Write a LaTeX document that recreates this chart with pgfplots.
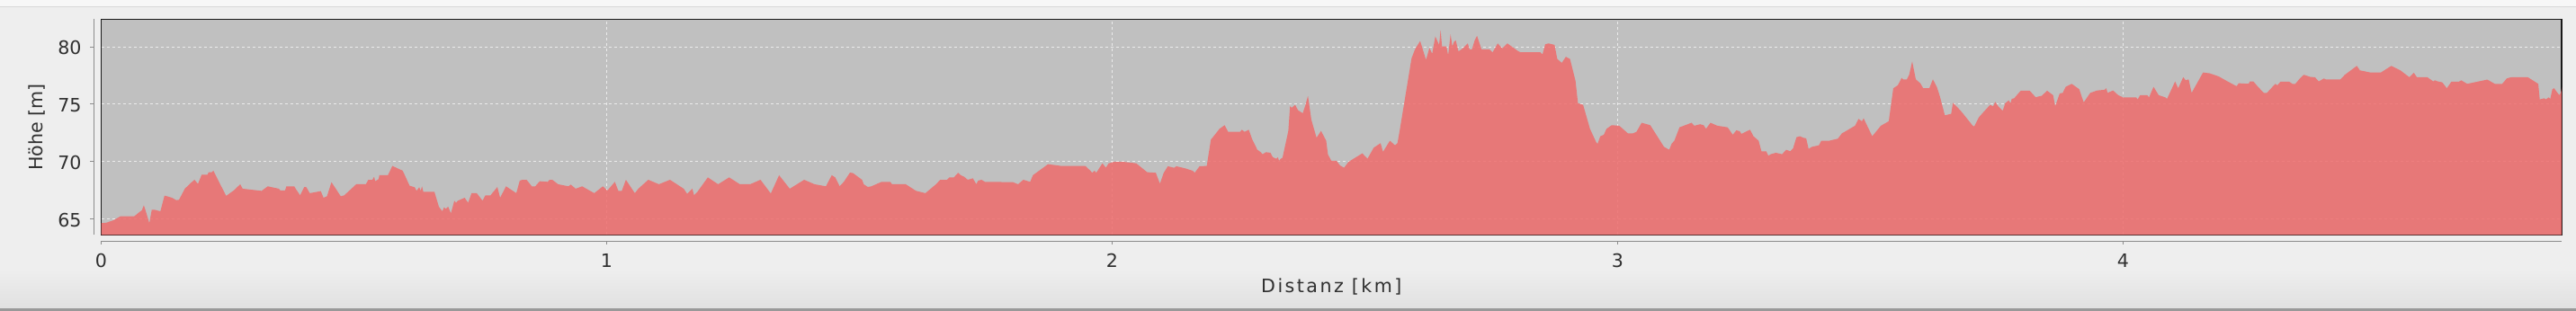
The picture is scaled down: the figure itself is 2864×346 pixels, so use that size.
\documentclass[border=0pt]{standalone}
\usepackage{pgfplots}
\pgfplotsset{compat=1.18}
\usepackage{fontspec}
\setmainfont{DejaVu Sans}
\newfontfamily\xlabfont{DejaVu Sans}[LetterSpace=12]
\definecolor{winbg}{HTML}{EEEEEE}
\definecolor{plotbg}{HTML}{C0C0C0}
\definecolor{fillred}{RGB}{239,108,108}
\definecolor{txt}{HTML}{303030}
\definecolor{axgray}{HTML}{8C8C8C}
\pgfplotstableread{
x y
0 64.61
0.0109 64.66
0.0245 64.87
0.0381 65.21
0.0654 65.21
0.0756 65.58
0.0804 65.73
0.0844 66.18
0.0892 65.52
0.0953 64.61
0.1001 65.79
0.1049 65.79
0.1171 65.65
0.1253 67.02
0.1403 66.83
0.1485 66.62
0.1539 66.65
0.1655 67.62
0.1764 68.09
0.1846 68.40
0.1914 68.04
0.1989 68.85
0.2104 68.85
0.2125 69.06
0.2186 69.06
0.2220 69.19
0.2472 66.99
0.2629 67.49
0.2751 68.01
0.2799 67.62
0.3174 67.43
0.3296 67.83
0.3514 67.62
0.3548 67.46
0.3637 67.46
0.3664 67.83
0.3820 67.83
0.3855 67.57
0.3936 67.04
0.4018 67.77
0.4059 67.75
0.4127 67.23
0.4345 67.41
0.4399 66.83
0.4467 66.96
0.4556 68.19
0.4740 66.96
0.4808 67.04
0.5046 68.01
0.5237 68.01
0.5285 68.40
0.5366 68.40
0.5400 68.66
0.5421 68.27
0.5489 68.46
0.5503 68.80
0.5673 68.80
0.5761 69.61
0.5966 69.19
0.6102 67.88
0.6204 67.75
0.6238 67.43
0.6293 67.75
0.6320 67.43
0.6347 67.83
0.6374 67.36
0.6592 67.36
0.6681 66.05
0.6749 65.65
0.6783 65.99
0.6817 65.86
0.6865 66.05
0.6919 65.47
0.6987 66.57
0.7021 66.39
0.7055 66.57
0.7191 66.83
0.7260 66.39
0.7328 67.23
0.7430 67.23
0.7546 66.57
0.7600 67.04
0.7702 67.04
0.7838 67.77
0.7893 66.83
0.8009 67.83
0.8213 67.23
0.8281 68.32
0.8336 68.40
0.8417 68.40
0.8519 67.83
0.8588 67.83
0.8676 68.27
0.8835 68.22
0.8870 68.40
0.8924 68.40
0.9040 68.01
0.9244 67.83
0.9292 67.98
0.9387 67.62
0.9516 67.83
0.9755 67.23
0.9925 67.83
1.0014 67.46
1.0163 68.22
1.0232 67.43
1.0300 67.43
1.0381 68.40
1.0558 67.23
1.0627 67.62
1.0824 68.40
1.1035 68.01
1.1253 68.40
1.1525 67.62
1.1594 67.17
1.1696 67.62
1.1730 67.04
1.1798 67.36
1.2002 68.61
1.2206 68.01
1.2424 68.61
1.2636 68.01
1.2840 68.01
1.3044 68.40
1.3248 67.20
1.3412 68.80
1.3623 67.62
1.3909 68.40
1.4113 68.01
1.4338 67.83
1.4454 68.80
1.4522 68.61
1.4610 67.83
1.4692 68.22
1.4815 69.03
1.4876 68.98
1.5053 68.40
1.5087 68.01
1.5169 67.77
1.5237 67.83
1.5441 68.22
1.5612 68.22
1.5646 68.01
1.5918 68.01
1.6122 67.43
1.6306 67.23
1.6517 68.01
1.6599 68.40
1.6735 68.40
1.6783 68.61
1.6871 68.61
1.6953 69.01
1.7007 68.80
1.7075 68.66
1.7144 68.40
1.7246 68.53
1.7314 68.01
1.7348 68.32
1.7416 68.40
1.7484 68.22
1.7573 68.22
1.8039 68.19
1.8141 68.01
1.8243 68.40
1.8379 68.22
1.8434 68.80
1.8515 69.06
1.8733 69.76
1.8992 69.61
1.9469 69.61
1.9571 69.19
1.9605 69.01
1.9653 69.19
1.9687 69.01
1.9809 69.84
1.9877 69.45
1.9932 69.84
2.0048 69.97
2.0218 69.97
2.0477 69.84
2.0695 69.06
2.0865 69.01
2.0947 68.06
2.1022 69.01
2.1103 69.58
2.1226 69.45
2.1273 69.58
2.1444 69.40
2.1594 69.19
2.1634 69.01
2.1730 69.58
2.1873 69.61
2.1955 71.91
2.2023 72.28
2.2125 72.85
2.2227 73.17
2.2295 72.59
2.2533 72.59
2.2567 72.77
2.2622 72.59
2.2704 72.77
2.2772 71.94
2.2874 71.02
2.2942 70.81
2.2976 70.63
2.3044 70.81
2.3133 70.76
2.3180 70.37
2.3248 70.24
2.3282 70.37
2.3303 70.05
2.3337 70.24
2.3371 70.31
2.3487 72.67
2.3521 74.82
2.3555 74.69
2.3623 74.95
2.3677 74.48
2.3773 74.21
2.3827 74.95
2.3875 75.73
2.3943 73.64
2.4045 72.07
2.4134 72.67
2.4236 71.81
2.4270 70.63
2.4338 70.05
2.4440 70.05
2.4508 69.66
2.4590 69.45
2.4679 69.97
2.4951 70.71
2.5053 70.24
2.5176 71.20
2.5312 71.60
2.5360 70.84
2.5496 71.81
2.5598 71.41
2.5646 71.60
2.5686 72.59
2.5925 79.01
2.5993 79.79
2.6095 80.52
2.6211 78.87
2.6279 79.92
2.6333 79.40
2.6395 80.92
2.6470 80.18
2.6500 81.49
2.6527 80.05
2.6615 80.05
2.6649 79.27
2.6697 81.10
2.6731 80.05
2.6765 80.45
2.6799 80.58
2.6854 79.61
2.6935 79.87
2.7038 80.31
2.7072 79.79
2.7119 79.79
2.7174 80.58
2.7221 80.97
2.7310 79.79
2.7467 79.79
2.7528 79.53
2.7630 80.31
2.7719 79.87
2.7821 80.31
2.8025 79.66
2.8080 79.53
2.8250 79.53
2.8475 79.53
2.8515 79.35
2.8570 80.24
2.8638 80.31
2.8754 80.18
2.8808 78.95
2.8897 78.61
2.8978 79.14
2.9060 78.95
2.9169 77.04
2.9217 75.08
2.9319 74.95
2.9455 72.85
2.9578 71.68
2.9605 71.54
2.9659 72.20
2.9728 72.33
2.9782 72.85
2.9884 73.17
3.0034 73.12
3.0204 72.46
3.0306 72.46
3.0375 72.59
3.0477 73.38
3.0647 73.17
3.0919 71.28
3.1022 71.02
3.1069 71.54
3.1124 71.81
3.1226 72.98
3.1464 73.38
3.1519 73.12
3.1634 73.25
3.1703 73.17
3.1750 72.85
3.1839 73.38
3.1975 73.12
3.2179 72.98
3.2281 72.33
3.2350 72.72
3.2418 72.64
3.2452 72.41
3.2533 72.59
3.2622 72.77
3.2690 72.20
3.2792 71.81
3.2847 70.89
3.2942 70.89
3.2983 70.50
3.3031 70.63
3.3133 70.76
3.3255 70.63
3.3337 71.02
3.3419 70.89
3.3473 71.15
3.3541 72.12
3.3609 72.20
3.3677 72.07
3.3732 72.02
3.3780 71.10
3.3848 71.28
3.3984 71.41
3.4032 71.81
3.4188 71.81
3.4359 71.99
3.4440 72.46
3.4495 72.59
3.4563 72.77
3.4699 73.12
3.4767 73.72
3.4835 73.51
3.4869 73.77
3.5039 72.20
3.5210 73.12
3.5366 73.51
3.5456 76.39
3.5545 76.65
3.5622 77.30
3.5652 77.17
3.5723 77.17
3.5770 77.57
3.5830 78.74
3.5901 77.17
3.5990 76.83
3.6049 76.39
3.6168 76.39
3.6239 77.17
3.6316 76.52
3.6375 75.73
3.6476 74.03
3.6601 74.16
3.6636 75.13
3.6791 74.42
3.7028 73.12
3.7058 73.06
3.7147 73.85
3.7236 74.29
3.7372 74.95
3.7431 74.82
3.7473 75.21
3.7532 74.82
3.7621 74.42
3.7669 75.08
3.7740 75.34
3.7775 75.08
3.7799 75.47
3.7847 75.52
3.7977 76.18
3.8155 76.18
3.8274 75.60
3.8333 75.68
3.8392 75.73
3.8499 76.18
3.8618 75.79
3.8659 74.82
3.8748 75.94
3.8808 75.99
3.8867 76.52
3.8986 76.78
3.9134 76.31
3.9223 75.16
3.9353 75.99
3.9490 76.20
3.9638 76.26
3.9668 76.39
3.9697 75.99
3.9804 76.20
3.9905 75.79
4.0000 75.60
4.0261 75.60
4.0291 75.42
4.0338 75.79
4.0481 75.79
4.0516 75.60
4.0605 76.52
4.0706 75.79
4.0836 75.60
4.0872 75.47
4.1032 76.99
4.1092 76.39
4.1192 77.36
4.1240 77.09
4.1299 77.17
4.1358 75.99
4.1584 77.77
4.1714 77.70
4.1892 77.43
4.2070 76.99
4.2248 76.57
4.2290 76.83
4.2486 76.78
4.2509 76.99
4.2580 76.99
4.2670 76.52
4.2788 75.99
4.2847 75.99
4.3014 76.78
4.3055 76.65
4.3114 76.96
4.3292 76.96
4.3352 76.78
4.3411 76.78
4.3500 77.25
4.3577 77.57
4.3708 77.38
4.3797 77.36
4.3874 76.99
4.3975 77.25
4.4010 77.17
4.4301 77.17
4.4390 77.57
4.4627 78.35
4.4686 77.96
4.4894 77.77
4.5102 77.77
4.5309 78.35
4.5487 77.96
4.5665 77.36
4.5754 77.75
4.5814 77.36
4.6021 77.36
4.6140 76.99
4.6170 77.09
4.6229 76.99
4.6318 76.91
4.6407 76.39
4.6496 76.96
4.6644 76.96
4.6692 77.09
4.6810 76.78
4.7208 77.15
4.7356 76.78
4.7504 76.78
4.7593 77.25
4.7682 77.36
4.8009 77.36
4.8216 76.78
4.8246 75.42
4.8335 75.52
4.8365 75.42
4.8424 75.60
4.8454 75.47
4.8495 76.31
4.8531 76.39
4.8573 76.13
4.8632 75.79
4.8661 75.99
4.8691 76.65
}\profile

\begin{document}
\begin{tikzpicture}
\begin{scope}[x=0.5pt,y=-0.5pt,shift={(0pt,173pt)}]
\useasboundingbox (0,0) rectangle (2864,346);
\fill[winbg] (0,0) rectangle (2864,346);
\fill[white!97!black] (0,0) rectangle (2864,7);
\draw[black!15, line width=0.5pt] (0,7.5) -- (2864,7.5);
\shade[top color=winbg, bottom color=black!12] (0,300) rectangle (2864,343);
\fill[black!40] (0,343) rectangle (2864,346);
\end{scope}
\begin{axis}[
  at={(56.25pt,42.35pt)}, anchor=south west,
  scale only axis, width=1367.75pt, height=120pt,
  xmin=0, xmax=4.868, ymin=63.59, ymax=82.43,
  axis background/.style={fill=plotbg},
  axis line style={draw=black!90, line width=0.75pt},
  xtick={0,1,2,3,4}, ytick={65,70,75,80},
  major tick length=0pt,
  grid=major,
  major grid style={draw=white!92!black, dash pattern=on 1.5pt off 1.5pt, line width=0.5pt},
  /pgf/number format/assume math mode=true,
  ticklabel style={font=\fontsize{10.3}{12}\selectfont, text=txt},
  yticklabel style={anchor=east, inner sep=0pt, xshift=-10.8pt, yshift=-0.6pt},
  xticklabel style={anchor=north, inner sep=0pt, yshift=-10.2pt},
  xlabel={\xlabfont Distanz [km]},
  ylabel={Höhe [m]},
  label style={font=\fontsize{10.3}{12}\selectfont, text=txt},
  xlabel style={at={(axis description cs:0.5,-0.2696)}, anchor=base, inner sep=0pt},
  ylabel style={at={(axis description cs:-0.02614,0.5)}, anchor=center, inner sep=0pt},
]
\addplot[draw=none, fill=fillred, fill opacity=0.85] table[x=x,y=y] {\profile} \closedcycle;
\coordinate (bl) at (rel axis cs:0,0);
\coordinate (tl) at (rel axis cs:0,1);
\coordinate (br) at (rel axis cs:1,0);
\pgfplotsinvokeforeach{0,1,2,3,4}{\coordinate (xt#1) at (axis cs:#1,63.59);}
\pgfplotsinvokeforeach{65,70,75,80}{\coordinate (yt#1) at (axis cs:0,#1);}
\end{axis}
\draw[axgray, line width=0.6pt] ([xshift=-4.1pt]bl) -- ([xshift=-4.1pt]tl);
\draw[axgray, line width=0.6pt] ([yshift=-3.5pt]bl) -- ([yshift=-3.5pt]br);
\foreach \i in {0,1,2,3,4} \draw[axgray, line width=0.5pt] ([yshift=-3.5pt]xt\i) -- ([yshift=-5.4pt]xt\i);
\foreach \i in {65,70,75,80} \draw[axgray, line width=0.5pt] ([xshift=-4.1pt]yt\i) -- ([xshift=-6.2pt]yt\i);
\end{tikzpicture}
\end{document}
